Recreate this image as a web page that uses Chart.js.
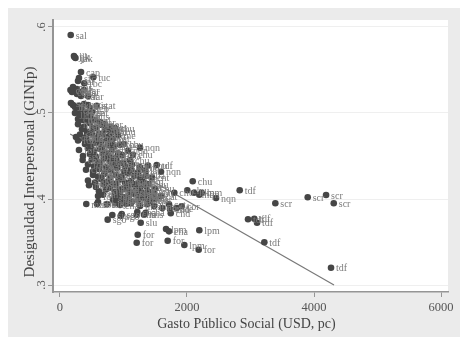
<!DOCTYPE html>
<html lang="es">
<head>
    <meta charset="UTF-8">
    <title>Gasto social y desigualdad</title>
    <script src="https://cdn.jsdelivr.net/npm/chart.js"></script>
    <style>
        html, body { margin: 0; padding: 0; background: #fff; }
        #panel { position: absolute; left: 8px; top: 8px; width: 452px; height: 329px; background: #ebebeb; }
        canvas { display: block; filter: blur(0.35px); }
    </style>
</head>
<body>
    <div id="panel"><canvas id="scatter" width="452" height="329"></canvas></div>

    <script>
        const xTicks = [0, 2000, 4000, 6000];
        const yTicks = [0.3, 0.4, 0.5, 0.6];
        const xTitle = "Gasto Público Social (USD, pc)";
        const yTitle = "Desigualdad Interpersonal (GINIp)";

        // gasto publico social (USD, pc), por filas de arriba hacia abajo
        const gasto = [
            169, 220, 244, 228, 331, 299, 284, 525, 383,
            165, 205, 236, 268, 189, 299, 331, 378, 268, 441,
            173, 205, 236, 299, 378, 441, 578, 473, 284, 347, 410, 504,
            236, 315, 394, 473, 284, 362, 441, 551, 630, 709, 788, 866,
            284, 378, 473, 567, 662, 756,
            347, 425, 520, 614, 709, 803, 882,
            252, 315, 410, 504, 583, 677, 772, 835, 914,
            284, 378, 457, 551, 646, 740, 819, 945,
            394, 488, 567, 662, 756, 851, 1008,
            299, 441, 535, 630, 725, 819, 914, 1071, 1150, 1260,
            362, 473, 567, 677, 772, 866, 976,
            357, 504, 599, 693, 788, 882, 992, 1103,
            441, 535, 630, 725, 819, 914, 1024, 1134, 1260, 1386, 1523,
            410, 520, 614, 709, 803, 898, 1008, 1118, 1229, 1339, 1591,
            520, 599, 693, 788, 882, 976, 1071, 1166, 1260, 1355, 1449,
            441, 551, 646, 740, 835, 929, 1024, 1118, 1213, 1307, 1402,
            457, 567, 693, 788, 882, 976, 1071, 1166, 1260, 1355, 1496,
            614, 725, 866, 945, 1024, 1103, 1197, 1292, 1386, 1481,
            599, 677, 866, 945, 1008, 1087, 1166, 1245, 1339, 1433,
            835, 914, 976, 1055, 1134, 1229, 1323, 1418, 1496,
            866, 945, 1118, 1260, 1370, 1480,
            2090, 2005, 2110, 2194, 2232, 2457, 1800, 1586, 414, 599, 583, 740, 1040, 1611, 1717, 1733, 1744, 1838,
            1917, 824, 751, 972, 956, 1217, 1208, 1323, 1350, 1271, 1224, 1208, 1670, 1717, 2194, 1696, 1958, 2184,
            2830, 3391, 3901, 4190, 4311, 2961, 3060, 3103, 3218, 4268
        ];

        // desigualdad interpersonal (GINIp)
        const gini = [
            .5907, .5663, .564, .565, .5477, .5407, .5372, .5415, .5345,
            .5267, .5302, .5256, .5221, .5244, .5244, .5198, .5267, .5279, .5198,
            .5116, .5093, .507, .5081, .5105, .5093, .5085, .5058, .5035, .5035, .5012, .5012,
            .5, .4977, .4965, .4965, .493, .4919, .4907, .4919, .4895, .4872, .4837, .4826,
            .487, .484, .488, .483, .486, .482,
            .481, .478, .482, .476, .48, .477, .479,
            .472, .475, .472, .476, .471, .475, .473, .47, .474,
            .468, .47, .466, .471, .467, .469, .465, .463,
            .464, .461, .465, .46, .463, .461, .464,
            .457, .459, .455, .458, .454, .457, .453, .456, .4515, .4597,
            .45, .452, .449, .453, .45, .448, .451,
            .4453, .446, .443, .447, .444, .446, .442, .445,
            .44, .438, .441, .437, .44, .442, .438, .44, .437, .439, .4395,
            .434, .432, .435, .431, .433, .436, .432, .434, .431, .433, .4317,
            .428, .426, .429, .425, .428, .426, .43, .427, .424, .427, .425,
            .4215, .419, .423, .42, .418, .422, .419, .421, .418, .42, .4175,
            .416, .414, .417, .413, .416, .412, .415, .417, .413, .415, .412,
            .409, .411, .408, .41, .412, .408, .41, .407, .409, .406,
            .4035, .405, .403, .406, .402, .404, .406, .403, .405, .402,
            .399, .401, .398, .4, .397, .399, .401, .398, .4,
            .395, .393, .395, .392, .394, .392,
            .4206, .4101, .4073, .405, .4073, .4012, .4073, .4035, .3942, .3965, .3942, .3942, .3945, .3895, .3938, .388, .3834, .3895,
            .3915, .3814, .376, .3826, .3802, .3849, .3817, .3817, .3841, .3724, .3585, .3492, .3651, .3624, .3636, .3515, .3465, .341,
            .4101, .395, .402, .4047, .395, .3764, .3771, .3724, .3497, .3201
        ];

        // etiqueta de cada punto
        const prov = [
            "sal", "jjk", "jak", "ijk", "cap", "sfc", "sal", "tuc", "rbc",
            "cor", "mis", "ctc", "sgo", "cha", "mar", "cat", "lar", "stb", "lar",
            "sal", "jjy", "for", "cha", "tuc", "mis", "stat", "sgo", "ctc", "cor", "sgr", "sal",
            "jjy", "cha", "for", "mis", "ctc", "tuc", "sgo", "sal", "lar", "cor", "cat", "chu",
            "mis", "for", "cha", "sgo", "ctc", "tuc",
            "sal", "cat", "jjy", "cor", "mis", "for", "chu",
            "cha", "sgo", "tuc", "lar", "ctc", "sal", "sju", "cat", "rne",
            "for", "mis", "cha", "sgo", "ers", "cor", "cat", "cha",
            "tuc", "sju", "lar", "sal", "ers", "cba", "chu",
            "for", "cha", "mis", "sgo", "ctc", "sfe", "ers", "nqn", "chu", "nqn",
            "sgo", "for", "mis", "cor", "sju", "cba", "cha",
            "cha", "sgo", "tuc", "ctc", "lar", "ers", "sfe", "chu",
            "for", "mis", "sgo", "sal", "cat", "cor", "mza", "rne", "chu", "chu", "tdf",
            "cha", "for", "sgo", "jjy", "sju", "ers", "cba", "rne", "sfe", "lar", "nqn",
            "mis", "for", "tuc", "sal", "cor", "cat", "mza", "sfe", "rne", "cba", "cnt",
            "sgo", "cha", "for", "jjy", "sju", "lar", "ers", "mza", "rne", "lpm", "chu",
            "mis", "cor", "sal", "tuc", "cat", "ers", "sfe", "cba", "mza", "rne", "chu",
            "sgo", "cha", "sju", "cor", "lar", "ers", "cba", "sfe", "mza", "chu",
            "for", "mis", "tuc", "sal", "cat", "ers", "sfe", "cba", "lpm", "cat",
            "sju", "sgo", "cor", "ers", "cba", "mza", "lpm", "rne", "cat",
            "sju", "cha", "sfe", "mza", "cor", "lpm",
            "chu", "chu", "lpm", "nqn", "lpm", "nqn", "chu", "cat", "mza", "sal", "cba", "tuc", "chd", "cor", "cat", "chd", "chd", "sfe",
            "cor", "sju", "sgo", "sgo", "sgo", "cha", "cha", "mis", "cha", "slu", "for", "for", "lpm", "cha", "lpm", "for", "lpm", "for",
            "tdf", "scr", "scr", "scr", "scr", "tdf", "tdf", "tdf", "tdf", "tdf"
        ];

        // recta ajustada
        const ajusteX = [160, 4315];
        const ajusteY = [0.4756, 0.3];

        const pointLabels = {
            id: "pointLabels",
            afterDatasetsDraw(chart) {
                const ctx = chart.ctx;
                const meta = chart.getDatasetMeta(0);
                ctx.save();
                ctx.font = "10px 'Liberation Serif'";
                ctx.fillStyle = "#7b7b7b";
                ctx.textBaseline = "middle";
                meta.data.forEach((pt, i) => ctx.fillText(prov[i], pt.x + 5, pt.y + 1));
                ctx.restore();
            }
        };

        // fondo blanco del area del grafico
        const plotBackground = {
            id: "plotBackground",
            beforeDraw(chart) {
                const a = chart.chartArea;
                chart.ctx.fillStyle = "#fff";
                chart.ctx.fillRect(a.left, a.top, a.right - a.left, a.bottom - a.top);
            }
        };

        // etiquetas del eje y giradas y titulos desplazados como en el original
        const axisText = {
            id: "axisText",
            afterDraw(chart) {
                const ctx = chart.ctx;
                const a = chart.chartArea;
                const y = chart.scales.y;
                ctx.save();
                ctx.textAlign = "center";
                ctx.textBaseline = "middle";
                ctx.fillStyle = "#555";
                ctx.font = "12.5px 'Liberation Serif'";
                yTicks.forEach(v => {
                    ctx.save();
                    ctx.translate(a.left - 11, y.getPixelForValue(v));
                    ctx.rotate(-Math.PI / 2);
                    ctx.fillText(String(v).replace("0.", "."), 0, 0);
                    ctx.restore();
                });
                ctx.fillStyle = "#444";
                ctx.font = "14px 'Liberation Serif'";
                ctx.fillText(xTitle, (a.left + a.right) / 2 - 4, a.bottom + 32);
                ctx.font = "15px 'Liberation Serif'";
                ctx.translate(22, (a.top + a.bottom) / 2 + 16);
                ctx.rotate(-Math.PI / 2);
                ctx.fillText(yTitle, 0, 0);
                ctx.restore();
            }
        };

        new Chart(document.getElementById("scatter"), {
            type: "scatter",
            data: {
                datasets: [
                    {
                        data: gasto.map((v, i) => ({ x: v, y: gini[i] })),
                        backgroundColor: "#464646",
                        borderWidth: 0,
                        pointRadius: 3.3,
                        order: 1
                    },
                    {
                        data: ajusteX.map((v, i) => ({ x: v, y: ajusteY[i] })),
                        showLine: true,
                        borderColor: "#787878",
                        borderWidth: 1.2,
                        pointRadius: 0,
                        order: 2
                    }
                ]
            },
            options: {
                responsive: false,
                animation: false,
                layout: { padding: { top: 12, right: 12 } },
                plugins: { legend: { display: false }, tooltip: { enabled: false } },
                scales: {
                    x: {
                        min: -110,
                        max: 6110,
                        afterBuildTicks(axis) { axis.ticks = xTicks.map(v => ({ value: v })); },
                        afterFit(axis) { axis.height = 45; },
                        grid: { drawOnChartArea: false, color: "#959595", tickLength: 5 },
                        border: { color: "#959595", width: 1.5 },
                        ticks: {
                            color: "#555",
                            font: { family: "Liberation Serif", size: 12.5 },
                            maxRotation: 0,
                            padding: 3,
                            callback: v => String(v)
                        }
                    },
                    y: {
                        min: 0.2919,
                        max: 0.6081,
                        afterBuildTicks(axis) { axis.ticks = yTicks.map(v => ({ value: v })); },
                        afterFit(axis) { axis.width = 45; },
                        grid: { color: "#efefef", tickColor: "#959595", tickLength: 5 },
                        border: { color: "#959595", width: 2 },
                        ticks: { display: false }
                    }
                }
            },
            plugins: [plotBackground, pointLabels, axisText]
        });
    </script>
</body>
</html>
